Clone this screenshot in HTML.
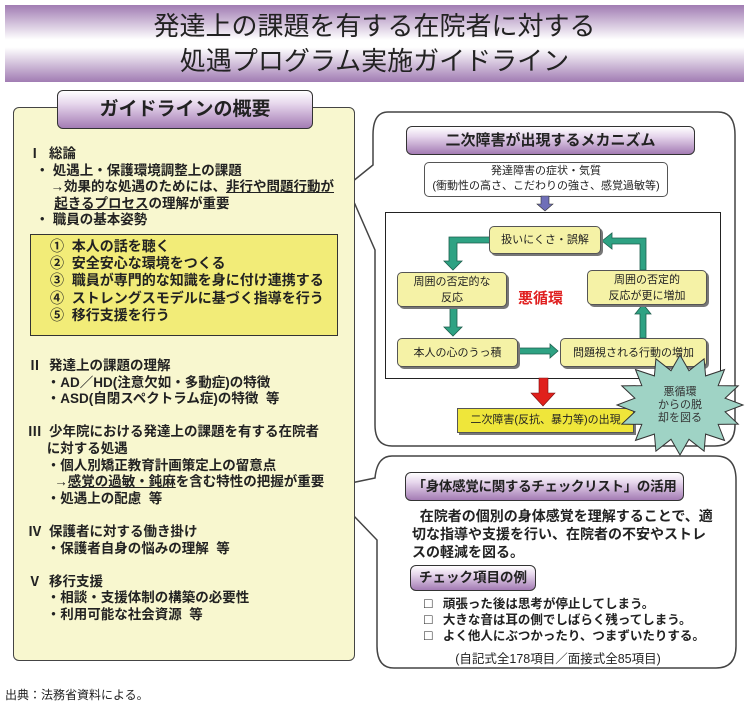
<!DOCTYPE html>
<html><head><meta charset="utf-8"><style>
body{margin:0;width:749px;height:707px;background:#fff;position:relative;overflow:hidden;font-family:"Liberation Sans","Noto Sans CJK JP",sans-serif;color:#222}
.a{position:absolute;white-space:nowrap}
.b{font-weight:bold}
.pur{background:linear-gradient(#fff 0%,#e6d6ec 35%,#a47cb4 100%);border:1.5px solid #333;border-radius:6px;text-align:center;font-weight:bold;color:#222}
.nd{position:absolute;background:#f5f2a6;border:1px solid #555;border-radius:5px;box-shadow:2px 2px 0 #777;font-size:11px;text-align:center;display:flex;align-items:center;justify-content:center;line-height:16px}
</style></head><body>
<div class="a" style="left:5px;top:5px;width:739px;height:77px;background:linear-gradient(#a17cb3 0%,#fff 45%,#fff 55%,#a17cb3 100%)"></div>
<div class="a" style="left:5px;top:9px;width:739px;text-align:center;font-size:26px;line-height:35px;color:#222">発達上の課題を有する在院者に対する<br>処遇プログラム実施ガイドライン</div>

<svg class="a" style="left:0;top:0" width="749" height="707">
<path d="M388,112 H718 Q735,112 735,135 V425 Q735,446 715,446 H392 Q375,446 375,425 V250 L347,186 L373,165 V135 Q373,112 388,112 Z" fill="#fff" stroke="#444" stroke-width="1.5"/>
<path d="M392,456 H716 Q736,456 736,480 V646 Q736,668 716,668 H394 Q377,668 377,646 V540 L327,488 L375,478 Q377,456 392,456 Z" fill="#fff" stroke="#444" stroke-width="1.5"/>
</svg>

<div class="a" style="left:13px;top:107px;width:340px;height:552px;background:#f8f7cf;border:1.5px solid #444;border-radius:6px"></div>
<div class="a pur" style="left:57px;top:90px;width:254px;height:37px;font-size:19px;line-height:37px">ガイドラインの概要</div>
<div class="a b" style="left:28px;top:146px;font-size:13.5px;line-height:16.5px">Ⅰ&nbsp;&nbsp;総論<br>&nbsp;&nbsp;・&nbsp;処遇上・保護環境調整上の課題<br>&nbsp;&nbsp;&nbsp;&nbsp;&nbsp;&nbsp;→効果的な処遇のためには、<u>非行や問題行動が</u><br>&nbsp;&nbsp;&nbsp;&nbsp;&nbsp;&nbsp;&nbsp;<u>起きるプロセス</u>の理解が重要<br>&nbsp;&nbsp;・&nbsp;職員の基本姿勢</div>
<div class="a" style="left:30px;top:234px;width:306px;height:100px;background:#f2ec78;border:1px solid #333"></div>
<div class="a b" style="left:50px;top:238px;font-size:14px;line-height:17.2px">①&nbsp;&nbsp;本人の話を聴く<br>②&nbsp;&nbsp;安全安心な環境をつくる<br>③&nbsp;&nbsp;職員が専門的な知識を身に付け連携する<br>④&nbsp;&nbsp;ストレングスモデルに基づく指導を行う<br>⑤&nbsp;&nbsp;移行支援を行う</div>
<div class="a b" style="left:28px;top:358px;font-size:13.5px;line-height:16.6px">Ⅱ&nbsp;&nbsp;発達上の課題の理解<br>&nbsp;&nbsp;&nbsp;&nbsp;&nbsp;・AD／HD(注意欠如・多動症)の特徴<br>&nbsp;&nbsp;&nbsp;&nbsp;&nbsp;・ASD(自閉スペクトラム症)の特徴&nbsp;&nbsp;等<br><br>Ⅲ&nbsp;&nbsp;少年院における発達上の課題を有する在院者<br>&nbsp;&nbsp;&nbsp;&nbsp;&nbsp;に対する処遇<br>&nbsp;&nbsp;&nbsp;&nbsp;&nbsp;・個人別矯正教育計画策定上の留意点<br>&nbsp;&nbsp;&nbsp;&nbsp;&nbsp;&nbsp;&nbsp;→<u>感覚の過敏・鈍麻</u>を含む特性の把握が重要<br>&nbsp;&nbsp;&nbsp;&nbsp;&nbsp;・処遇上の配慮&nbsp;&nbsp;等<br><br>Ⅳ&nbsp;&nbsp;保護者に対する働き掛け<br>&nbsp;&nbsp;&nbsp;&nbsp;&nbsp;・保護者自身の悩みの理解&nbsp;&nbsp;等<br><br>Ⅴ&nbsp;&nbsp;移行支援<br>&nbsp;&nbsp;&nbsp;&nbsp;&nbsp;・相談・支援体制の構築の必要性<br>&nbsp;&nbsp;&nbsp;&nbsp;&nbsp;・利用可能な社会資源&nbsp;&nbsp;等</div>
<div class="a" style="left:5px;top:686px;font-size:12px">出典：法務省資料による。</div>

<div class="a pur" style="left:406px;top:126px;width:287px;height:27px;font-size:15px;line-height:27px">二次障害が出現するメカニズム</div>
<div class="a" style="left:424px;top:162px;width:242px;height:32px;border:1px solid #555;border-radius:5px;background:#fff;font-size:11px;line-height:15px;text-align:center;padding-top:1px">発達障害の症状・気質<br>(衝動性の高さ、こだわりの強さ、感覚過敏等)</div>
<div class="a" style="left:385px;top:212px;width:334px;height:165px;border:1px solid #222;background:#fff"></div>

<svg class="a" style="left:0;top:0" width="749" height="707">
<polygon points="541,196 549,196 549,204 553,204 545,211 537,204 541,204" fill="#6f6fb8" stroke="#333" stroke-width=".6"/>
<g fill="#2ea283" stroke="#1d5f4d" stroke-width=".8">
<polygon points="490,237 490,243 457,243 457,261 462,261 453,270 444,261 449,261 449,237"/>
<polygon points="450,305 457,305 457,327 462,327 453,336 444,327 450,327"/>
<polygon points="516,348 550,348 550,344 558,351 550,358 550,354 516,354"/>
<polygon points="640,338 646,338 646,314 651,314 643,304 635,314 640,314"/>
<polygon points="640,270 646,270 646,238 612,238 612,233 602,241 612,249 612,244 640,244"/>
</g>
<polygon points="539,378 548,378 548,393 555,393 543,406 531,393 539,393" fill="#e0201c" stroke="#7a1010" stroke-width=".6"/>
</svg>

<div class="nd" style="left:489px;top:226px;width:110px;height:26px">扱いにくさ・誤解</div>
<div class="nd" style="left:397px;top:272px;width:108px;height:33px">周囲の否定的な<br>反応</div>
<div class="nd" style="left:587px;top:270px;width:118px;height:33px">周囲の否定的<br>反応が更に増加</div>
<div class="nd" style="left:397px;top:338px;width:119px;height:27px">本人の心のうっ積</div>
<div class="nd" style="left:560px;top:338px;width:145px;height:27px">問題視される行動の増加</div>
<div class="a b" style="left:518px;top:287px;color:#e02020;font-size:15px">悪循環</div>
<div class="a" style="left:457px;top:408px;width:175px;height:23px;background:#efe63a;border:1px solid #555;box-shadow:2px 2px 0 #777;font-size:11px;line-height:23px;text-align:center">二次障害(反抗、暴力等)の出現</div>
<svg class="a" style="left:0;top:0" width="749" height="707"><polygon id="star2" fill="#9fd3c5" stroke="#333" stroke-width="1"/></svg>
<div class="a" style="left:650px;top:386px;width:60px;font-size:11px;line-height:13px;text-align:center;color:#333">悪循環<br>からの脱<br>却を図る</div>

<div class="a pur" style="left:405px;top:472px;width:277px;height:27px;font-size:13.5px;letter-spacing:-0.3px;line-height:27px">「身体感覚に関するチェックリスト」の活用</div>
<div class="a b" style="left:412px;top:507px;font-size:14px;line-height:18px">&nbsp;&nbsp;在院者の個別の身体感覚を理解することで、適<br>切な指導や支援を行い、在院者の不安やストレ<br>スの軽減を図る。</div>
<div class="a pur" style="left:410px;top:565px;width:124px;height:24px;font-size:13.5px;line-height:24px">チェック項目の例</div>
<div class="a b" style="left:424px;top:596px;font-size:12.5px;line-height:15px"><span style="font-size:14px">□</span>&nbsp;&nbsp;&nbsp;頑張った後は思考が停止してしまう。<br><span style="font-size:14px">□</span>&nbsp;&nbsp;&nbsp;大きな音は耳の側でしばらく残ってしまう。<br><span style="font-size:14px">□</span>&nbsp;&nbsp;&nbsp;よく他人にぶつかったり、つまずいたりする。</div>
<div class="a" style="left:380px;top:648px;width:356px;text-align:center;font-size:12.5px">(自記式全178項目／面接式全85項目)</div>
<script>
var p=[],n=16,cx=680,cy=405;
for(var i=0;i<2*n;i++){var a=Math.PI*i/n-Math.PI/2;var rx=i%2?46:63,ry=i%2?35:50;p.push((cx+rx*Math.cos(a)).toFixed(1)+","+(cy+ry*Math.sin(a)).toFixed(1));}
document.getElementById('star2').setAttribute('points',p.join(' '));
</script>
</body></html>
